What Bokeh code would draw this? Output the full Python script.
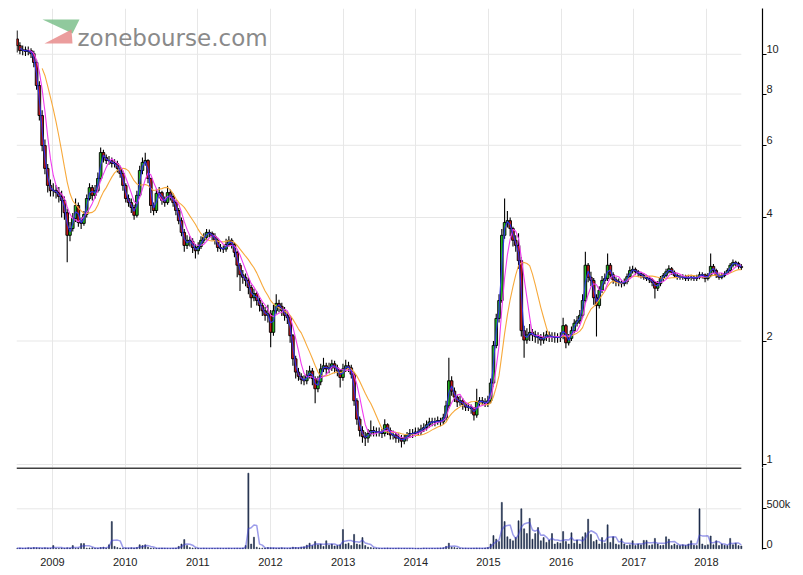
import numpy as np
import pandas as pd
from bokeh.plotting import figure
from bokeh.models import (Range1d, FixedTicker, ColumnDataSource, Label, PolyAnnotation,
                          BasicTickFormatter, LogAxis, LinearAxis)
from bokeh.layouts import column
from bokeh.embed import file_html
from bokeh.resources import INLINE

# ---------------- data (bi-weekly candles) ----------------
first_open = 10.90
closes = [
    10.50, 10.21, 10.25, 10.16, 10.21, 10.04, 9.55, 8.39, 7.09, 5.99,
    5.27, 4.79, 4.65, 4.66, 4.60, 4.50, 4.40, 4.11, 3.62, 3.76,
    3.98, 4.28, 3.89, 3.87, 4.07, 4.45, 4.73, 4.53, 4.65, 4.98,
    5.76, 5.60, 5.51, 5.50, 5.42, 5.41, 5.27, 5.12, 4.79, 4.45,
    4.35, 4.23, 4.05, 4.53, 5.21, 5.45, 5.51, 4.98, 4.28, 4.16,
    4.58, 4.60, 4.40, 4.35, 4.60, 4.50, 4.35, 4.16, 3.93, 3.68,
    3.42, 3.52, 3.50, 3.38, 3.32, 3.40, 3.52, 3.58, 3.68, 3.66,
    3.60, 3.52, 3.38, 3.36, 3.35, 3.44, 3.52, 3.44, 3.29, 3.06,
    2.90, 2.86, 2.81, 2.70, 2.55, 2.61, 2.51, 2.44, 2.37, 2.31,
    2.33, 2.10, 2.37, 2.47, 2.43, 2.37, 2.31, 2.28, 2.06, 1.81,
    1.68, 1.64, 1.61, 1.60, 1.65, 1.69, 1.62, 1.53, 1.59, 1.71,
    1.74, 1.71, 1.72, 1.76, 1.72, 1.69, 1.63, 1.71, 1.74, 1.72,
    1.66, 1.43, 1.29, 1.21, 1.17, 1.16, 1.19, 1.21, 1.20, 1.20,
    1.20, 1.19, 1.25, 1.21, 1.18, 1.18, 1.16, 1.16, 1.14, 1.16,
    1.18, 1.19, 1.19, 1.20, 1.20, 1.22, 1.23, 1.25, 1.27, 1.27,
    1.27, 1.28, 1.27, 1.30, 1.39, 1.60, 1.51, 1.46, 1.42, 1.43,
    1.40, 1.38, 1.38, 1.37, 1.32, 1.42, 1.43, 1.42, 1.41, 1.43,
    1.58, 1.95, 2.27, 2.51, 3.62, 3.89, 3.93, 3.76, 3.52, 3.42,
    3.14, 2.12, 2.01, 2.07, 2.10, 2.07, 2.05, 2.04, 2.01, 2.04,
    2.07, 2.05, 2.05, 2.04, 2.04, 2.05, 2.18, 1.98, 2.03, 2.12,
    2.21, 2.24, 2.31, 2.51, 3.06, 2.86, 2.81, 2.55, 2.44, 2.66,
    2.81, 2.84, 3.06, 2.90, 2.82, 2.79, 2.78, 2.76, 2.79, 2.87,
    2.97, 2.99, 2.95, 2.92, 2.89, 2.86, 2.84, 2.82, 2.78, 2.69,
    2.76, 2.84, 2.89, 2.95, 3.00, 2.94, 2.89, 2.86, 2.86, 2.87,
    2.84, 2.86, 2.86, 2.84, 2.86, 2.90, 2.90, 2.84, 2.89, 3.04,
    2.97, 2.89, 2.86, 2.89, 2.92, 2.97, 3.06, 3.11, 3.09, 3.04, 3.02,
]
highs = [
    11.43, 10.7, 10.5, 10.45, 10.45, 10.35, 10.2, 9.7, 8.6, 7.3,
    6.2, 5.4, 4.95, 4.85, 4.8, 4.75, 4.65, 4.5, 4.2, 3.9,
    4.1, 4.45, 4.35, 4.0, 4.15, 4.55, 4.85, 4.8, 4.8, 5.15,
    5.93, 5.85, 5.7, 5.65, 5.6, 5.55, 5.5, 5.35, 5.2, 4.85,
    4.55, 4.45, 4.3, 4.65, 5.35, 5.6, 5.75, 5.55, 5.0, 4.35,
    4.7, 4.75, 4.65, 4.5, 4.78, 4.68, 4.58, 4.42, 4.22, 4.0,
    3.75, 3.62, 3.6, 3.56, 3.45, 3.48, 3.6, 3.66, 3.75, 3.74,
    3.7, 3.66, 3.56, 3.45, 3.42, 3.55, 3.6, 3.56, 3.48, 3.32,
    3.1, 2.98, 2.92, 2.85, 2.74, 2.68, 2.64, 2.55, 2.48, 2.42,
    2.45, 2.38, 2.45, 2.6, 2.52, 2.48, 2.42, 2.36, 2.3, 2.08,
    1.84, 1.72, 1.67, 1.65, 1.7, 1.74, 1.72, 1.64, 1.64, 1.76,
    1.82, 1.77, 1.77, 1.8, 1.79, 1.75, 1.71, 1.76, 1.8, 1.78,
    1.75, 1.68, 1.45, 1.31, 1.24, 1.2, 1.22, 1.28, 1.24, 1.23,
    1.23, 1.22, 1.29, 1.26, 1.23, 1.21, 1.2, 1.19, 1.18, 1.18,
    1.2, 1.22, 1.22, 1.23, 1.23, 1.25, 1.26, 1.28, 1.3, 1.3,
    1.3, 1.31, 1.3, 1.33, 1.43, 1.82, 1.64, 1.54, 1.48, 1.47,
    1.45, 1.42, 1.41, 1.4, 1.38, 1.53, 1.46, 1.46, 1.45, 1.47,
    1.62, 2.0, 2.33, 2.6, 3.75, 4.45, 4.15, 4.0, 3.8, 3.62,
    3.66, 3.2, 2.18, 2.15, 2.2, 2.14, 2.12, 2.1, 2.08, 2.1,
    2.12, 2.11, 2.1, 2.1, 2.09, 2.1, 2.28, 2.2, 2.08, 2.17,
    2.26, 2.3, 2.38, 2.6, 3.3, 3.1, 2.95, 2.85, 2.6, 2.72,
    2.88, 2.92, 3.27, 3.1, 2.94, 2.86, 2.84, 2.82, 2.84, 2.92,
    3.04, 3.05, 3.02, 2.98, 2.95, 2.93, 2.9, 2.88, 2.85, 2.8,
    2.8, 2.88, 2.93, 3.0, 3.06, 3.03, 2.97, 2.92, 2.9, 2.91,
    2.9, 2.9, 2.9, 2.89, 2.9, 2.95, 2.94, 2.92, 2.93, 3.27,
    3.08, 3.0, 2.92, 2.93, 2.96, 3.01, 3.1, 3.16, 3.14, 3.12, 3.08,
]
lows = [
    10.1, 10.0, 9.95, 9.9, 9.95, 9.8, 9.3, 8.2, 6.9, 5.8,
    5.1, 4.6, 4.5, 4.5, 4.45, 4.35, 4.0, 3.95, 3.11, 3.5,
    3.7, 3.9, 3.8, 3.75, 3.82, 4.0, 4.4, 4.4, 4.45, 4.6,
    4.9, 5.45, 5.4, 5.38, 5.3, 5.3, 5.15, 5.0, 4.65, 4.35,
    4.25, 4.1, 3.95, 4.0, 4.5, 5.1, 5.35, 4.85, 4.1, 4.05,
    4.1, 4.45, 4.3, 4.25, 4.3, 4.4, 4.25, 4.05, 3.85, 3.6,
    3.3, 3.35, 3.4, 3.28, 3.18, 3.25, 3.35, 3.46, 3.52, 3.58,
    3.52, 3.44, 3.3, 3.3, 3.28, 3.3, 3.4, 3.36, 3.2, 2.86,
    2.65, 2.76, 2.72, 2.6, 2.41, 2.5, 2.44, 2.36, 2.3, 2.24,
    2.22, 1.93, 2.06, 2.33, 2.35, 2.3, 2.24, 2.2, 1.98, 1.74,
    1.62, 1.6, 1.57, 1.56, 1.57, 1.62, 1.56, 1.41, 1.5, 1.56,
    1.68, 1.66, 1.67, 1.69, 1.67, 1.64, 1.54, 1.6, 1.68, 1.68,
    1.62, 1.39, 1.25, 1.17, 1.13, 1.11, 1.13, 1.17, 1.17, 1.17,
    1.17, 1.16, 1.17, 1.18, 1.15, 1.15, 1.13, 1.13, 1.1, 1.12,
    1.14, 1.16, 1.16, 1.17, 1.18, 1.18, 1.2, 1.21, 1.23, 1.24,
    1.24, 1.25, 1.24, 1.25, 1.28, 1.37, 1.47, 1.42, 1.38, 1.39,
    1.36, 1.35, 1.35, 1.33, 1.28, 1.3, 1.39, 1.39, 1.38, 1.38,
    1.41, 1.55, 1.92, 2.22, 2.48, 3.55, 3.78, 3.6, 3.4, 3.3,
    3.0, 2.05, 1.82, 1.97, 2.0, 2.0, 1.98, 1.97, 1.95, 1.97,
    2.0, 1.99, 1.99, 1.98, 1.98, 1.99, 2.02, 1.92, 1.95, 2.0,
    2.09, 2.17, 2.2, 2.28, 2.48, 2.78, 2.72, 2.45, 2.05, 2.4,
    2.62, 2.75, 2.8, 2.84, 2.76, 2.72, 2.72, 2.7, 2.72, 2.75,
    2.84, 2.92, 2.9, 2.87, 2.84, 2.82, 2.8, 2.77, 2.72, 2.54,
    2.65, 2.72, 2.8, 2.86, 2.92, 2.9, 2.85, 2.82, 2.82, 2.82,
    2.8, 2.8, 2.81, 2.8, 2.8, 2.83, 2.84, 2.78, 2.81, 2.86,
    2.93, 2.85, 2.82, 2.83, 2.86, 2.9, 2.94, 3.02, 3.04, 3.0, 2.98,
]
volumes_k = [
    8, 10, 6, 8, 12, 10, 15, 12, 10, 8,
    12, 10, 8, 40, 8, 6, 10, 8, 12, 10,
    40, 8, 10, 65, 65, 8, 10, 12, 8, 6,
    15, 20, 10, 50, 340, 30, 15, 10, 8, 10,
    8, 12, 10, 15, 50, 40, 50, 20, 10, 8,
    6, 8, 10, 8, 6, 5, 8, 10, 30, 60,
    115, 40, 15, 10, 8, 6, 5, 8, 6, 5,
    6, 5, 8, 6, 5, 6, 8, 5, 6, 8,
    6, 10, 40, 945, 60, 145, 20, 10, 8, 10,
    15, 12, 10, 8, 10, 12, 8, 6, 10, 20,
    15, 12, 20, 25, 45, 70, 40, 90, 50, 60,
    30, 100, 45, 60, 35, 40, 50, 240, 60, 70,
    40, 180, 60, 50, 140, 40, 20, 15, 10, 8,
    6, 5, 8, 10, 6, 5, 6, 8, 5, 6,
    5, 6, 5, 4, 6, 5, 8, 6, 5, 6,
    5, 8, 10, 12, 30, 70, 20, 15, 10, 8,
    6, 8, 5, 6, 8, 10, 8, 6, 10, 15,
    60, 165, 120, 90, 580, 340, 150, 120, 100, 140,
    350, 500, 250, 190, 380, 120, 190, 265, 100, 140,
    80, 110, 190, 60, 80, 70, 215, 90, 60, 200,
    70, 110, 60, 150, 200, 370, 180, 90, 110, 60,
    140, 70, 300, 80, 150, 60, 50, 125, 60, 40,
    50, 100, 40, 60, 50, 105, 105, 40, 50, 130,
    60, 40, 45, 150, 120, 40, 60, 45, 40, 50,
    40, 60, 100, 45, 40, 500, 60, 40, 50, 160,
    50, 100, 40, 60, 45, 40, 130, 50, 70, 40, 35,
]
price_ticks = [1, 2, 4, 6, 8, 10]
year_ticks = [2009, 2010, 2011, 2012, 2013, 2014, 2015, 2016, 2017, 2018]
vol_ticks = [0, 500000]
vol_labels = {0: "0", 500000: "500k"}
ma_lengths = {"short": 2, "mid": 5, "long": 11}

n = len(closes)
assert len(highs) == n and len(lows) == n and len(volumes_k) == n, (len(highs), len(lows), len(volumes_k), n)

dates = pd.date_range("2008-07-07", periods=n, freq="14D")
days_in_year = np.where(dates.is_leap_year, 366.0, 365.0)
xs = np.asarray(dates.year + (dates.dayofyear - 1) / days_in_year, dtype=float)

opens = [first_open] + closes[:-1]
c = np.array(closes)
o = np.array(opens)
top = np.maximum(o, c)
bot = np.minimum(o, c)
hi = np.maximum(np.array(highs), top)
lo = np.minimum(np.array(lows), bot)
colors = np.where(c >= o, "#22b422", "#c01818")

src = ColumnDataSource(dict(x=xs, top=top, bot=bot, hi=hi, lo=lo, color=colors))

cs = pd.Series(closes)
ma_s = cs.rolling(ma_lengths["short"]).mean().to_numpy()
ma_m = cs.rolling(ma_lengths["mid"]).mean().to_numpy()
ma_l = cs.rolling(ma_lengths["long"], min_periods=10).mean().to_numpy()

vol = np.array(volumes_k, dtype=float) * 1000
vol_ma = pd.Series(vol).rolling(4, min_periods=1).mean().to_numpy()

X0, X1 = 2008.505, 2018.771
FONT = "Liberation Sans"
GRID = "#e7e7e7"
FW = 746
LABEL_LIFT_PX = 5          # tick labels sit a few pixels above their tick marks

def style_tick_axis(ax, ticks):
    ax.ticker = FixedTicker(ticks=ticks)
    ax.major_label_overrides = {t: "" for t in ticks}
    ax.major_label_standoff = 0
    ax.minor_tick_line_color = None
    ax.major_tick_in = 0
    ax.major_tick_out = 4
    ax.axis_line_color = "black"
    ax.axis_line_width = 1.2
    ax.major_tick_line_color = "black"

def style_label_axis(ax, ticks):
    ax.ticker = FixedTicker(ticks=ticks)
    ax.axis_line_color = None
    ax.major_tick_line_color = None
    ax.minor_tick_line_color = None
    ax.major_tick_in = 0
    ax.major_tick_out = 0
    ax.major_label_standoff = 0
    ax.major_label_text_font = FONT
    ax.major_label_text_font_size = "11px"
    ax.major_label_text_color = "#222222"

# ---------------- price panel ----------------
PY0, PY1 = 0.9833, 12.93
p = figure(frame_width=FW, frame_height=459,
           x_range=Range1d(X0, X1), y_range=Range1d(PY0, PY1),
           y_axis_type="log", y_axis_location="right", x_axis_location=None,
           output_backend="svg", toolbar_location=None,
           min_border_left=16, min_border_top=8, min_border_bottom=0, min_border_right=0)
p.outline_line_color = None
p.background_fill_color = "white"
p.xgrid.ticker = FixedTicker(ticks=year_ticks)
p.xgrid.grid_line_color = GRID
p.ygrid.visible = False
style_tick_axis(p.yaxis[0], price_ticks)

px_per_unit = 459 / np.log(PY1 / PY0)
lift = np.exp(LABEL_LIFT_PX / px_per_unit)
p.extra_y_ranges = {"labels": Range1d(PY0 / lift, PY1 / lift)}
plab = LogAxis(y_range_name="labels", formatter=BasicTickFormatter())
style_label_axis(plab, price_ticks)
p.add_layout(plab, "right")

last_x = float(xs[-1])
p.segment(x0=[X0] * len(price_ticks), x1=[last_x] * len(price_ticks),
          y0=price_ticks, y1=price_ticks, line_color=GRID, line_width=1)

p.segment(x0="x", y0="hi", x1="x", y1="lo", source=src, line_color="black", line_width=1.1)
p.vbar(x="x", width=0.036, top="top", bottom="bot", source=src,
       fill_color="color", line_color="black", line_width=0.9)

p.line(xs, ma_l, line_color="#f7a93b", line_width=1.1)
p.line(xs, ma_m, line_color="#f03cf0", line_width=1.1)
p.line(xs, ma_s, line_color="#2f2fe8", line_width=1.1)

# logo (screen units measured from the frame's bottom-left corner)
p.add_layout(PolyAnnotation(xs=[26, 63, 56], ys=[448, 448, 434], xs_units="screen", ys_units="screen",
                            fill_color="#7dbf8c", fill_alpha=0.85, line_color=None))
p.add_layout(PolyAnnotation(xs=[55, 28, 56], ys=[438, 424, 424], xs_units="screen", ys_units="screen",
                            fill_color="#e88c8c", fill_alpha=0.85, line_color=None))
p.add_layout(Label(x=61, y=430, x_units="screen", y_units="screen", text="zonebourse.com",
                   text_font="DejaVu Sans", text_font_size="23px", text_color="#8a8a8a",
                   text_baseline="alphabetic"))

# ---------------- volume panel ----------------
VY0, VY1 = -8750, 1016250
v = figure(frame_width=FW, frame_height=82,
           x_range=p.x_range, y_range=Range1d(VY0, VY1),
           y_axis_location="right",
           output_backend="svg", toolbar_location=None,
           min_border_left=16, min_border_top=0, min_border_bottom=0, min_border_right=0)
v.outline_line_color = None
v.xgrid.ticker = FixedTicker(ticks=year_ticks)
v.xgrid.grid_line_color = GRID
v.ygrid.visible = False

vx = v.xaxis[0]
vx.ticker = FixedTicker(ticks=year_ticks)
vx.formatter = BasicTickFormatter()
vx.axis_line_color = None
vx.major_tick_line_color = None
vx.minor_tick_line_color = None
vx.major_tick_in = 0
vx.major_tick_out = 0
vx.major_label_standoff = 8
vx.major_label_text_font = FONT
vx.major_label_text_font_size = "11px"
vx.major_label_text_color = "#222222"

style_tick_axis(v.yaxis[0], vol_ticks)
vol_shift = LABEL_LIFT_PX * (VY1 - VY0) / 82
v.extra_y_ranges = {"labels": Range1d(VY0 - vol_shift, VY1 - vol_shift)}
vlab = LinearAxis(y_range_name="labels")
style_label_axis(vlab, vol_ticks)
vlab.major_label_overrides = vol_labels
v.add_layout(vlab, "right")

v.segment(x0=[X0], x1=[last_x], y0=[500000], y1=[500000], line_color=GRID, line_width=1)
v.segment(x0=[X0], x1=[last_x], y0=[1010000], y1=[1010000], line_color="black", line_width=1.3)
v.vbar(x=xs, top=vol, bottom=0, width=0.014, fill_color="#1d2b4a", line_color="#1d2b4a", line_width=0.6)
v.line(xs, vol_ma, line_color="#3a3ad6", line_alpha=0.5, line_width=1.5)

layout = column(p, v, spacing=0)
open("out.html", "w").write(file_html(layout, INLINE))
